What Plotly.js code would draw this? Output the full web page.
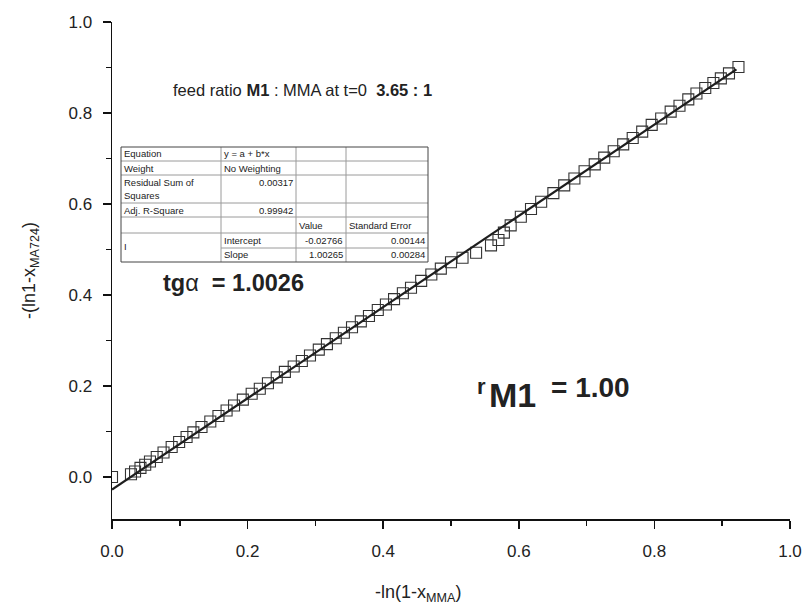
<!DOCTYPE html>
<html><head><meta charset="utf-8">
<script src="https://cdn.plot.ly/plotly-3.0.1.min.js"></script>
<style>html,body{margin:0;padding:0;background:#fff}#chart{width:807px;height:607px}</style>
</head><body><div id="chart"></div>
<script>
// measured data: -ln(1-x_MMA) vs -(ln1-x_MA724)
const xData = [0, 0.028, 0.034, 0.042, 0.049, 0.056, 0.066, 0.076, 0.088, 0.099, 0.110, 0.120, 0.132, 0.145, 0.157, 0.169, 0.180, 0.193, 0.206,
  0.218, 0.230, 0.243, 0.255, 0.268, 0.280, 0.292, 0.305, 0.317, 0.330, 0.342, 0.354, 0.367, 0.379, 0.392, 0.404, 0.416, 0.429, 0.441,
  0.456, 0.471, 0.485, 0.500, 0.517, 0.537, 0.559, 0.570, 0.578, 0.588, 0.603, 0.618, 0.633, 0.651, 0.667, 0.682, 0.697, 0.712,
  0.726, 0.740, 0.754, 0.768, 0.782, 0.796, 0.810, 0.824, 0.837, 0.850, 0.862, 0.875, 0.887, 0.898, 0.910, 0.924];
const yData = [0.000, 0.006, 0.012, 0.020, 0.027, 0.034, 0.044, 0.054, 0.066, 0.077, 0.088, 0.098, 0.110, 0.122, 0.134, 0.146, 0.157, 0.170, 0.183,
  0.194, 0.206, 0.219, 0.231, 0.243, 0.255, 0.267, 0.280, 0.292, 0.305, 0.317, 0.329, 0.342, 0.354, 0.367, 0.379, 0.391, 0.404, 0.416,
  0.431, 0.445, 0.458, 0.472, 0.482, 0.493, 0.509, 0.521, 0.537, 0.553, 0.572, 0.589, 0.605, 0.624, 0.641, 0.656, 0.672, 0.687,
  0.702, 0.716, 0.731, 0.745, 0.759, 0.774, 0.788, 0.803, 0.816, 0.830, 0.843, 0.855, 0.866, 0.876, 0.887, 0.901];

// linear fit y = a + b*x
const fitIntercept = -0.02766;
const fitSlope = 1.00265;
const fitXRange = [0, 0.921];
const fitY = fitXRange.map(x => fitIntercept + fitSlope * x);

// fit table text
const tableCol1 = ["Equation", "Weight", "Residual Sum of", "Squares", "Adj. R-Square", "I"];
const tableCol2 = ["y = a + b*x", "No Weighting", "0.00317", "0.99942", "Intercept", "Slope"];
const tableHeaders = ["Value", "Standard Error"];
const fitValues = ["-0.02766", "1.00265"];
const fitErrors = ["0.00144", "0.00284"];

const xTickVals = [0, 0.2, 0.4, 0.6, 0.8, 1.0];
const yTickVals = [0, 0.2, 0.4, 0.6, 0.8, 1.0];

// layout geometry (pixels)
const L = 112, T = 22, W = 678, H = 497;
const px = p => (p - L) / W;
const py = p => (T + H - p) / H;
const FONT = "Arial, 'Liberation Sans', Helvetica, sans-serif";

const shapes = [];
function hline(x0, x1, y, c, w) { shapes.push({type:'line', xref:'paper', yref:'paper', x0:px(x0), x1:px(x1), y0:py(y), y1:py(y), line:{color:c, width:w}}); }
function vline(x, y0, y1, c, w) { shapes.push({type:'line', xref:'paper', yref:'paper', x0:px(x), x1:px(x), y0:py(y0), y1:py(y1), line:{color:c, width:w}}); }
const tL = 121, tR = 428, tT = 147, tB = 262;
const cB = [221, 296, 346];
const rB = [161, 175, 203, 217, 233];
const gridC = '#9a9a9a';
rB.forEach(y => hline(tL, tR, y, gridC, 1));
hline(cB[0], tR, 248, gridC, 1);
cB.forEach(x => vline(x, tT, tB, gridC, 1));
shapes.push({type:'rect', xref:'paper', yref:'paper', x0:px(tL), x1:px(tR), y0:py(tB), y1:py(tT), line:{color:'#444', width:1}, fillcolor:'rgba(0,0,0,0)'});

const annotations = [];
function txt(t, x, y, anchor, size, extra) {
  annotations.push(Object.assign({text:t, xref:'paper', yref:'paper', x:px(x), y:py(y), xanchor:anchor, yanchor:'middle', showarrow:false, borderpad:0,
    font:{family:FONT, size:size, color:'#222'}}, extra || {}));
}
const c1x = tL + 2, c2x = cB[0] + 2, c2r = cB[1] - 2, c3x = cB[1] + 2, c3r = cB[2] - 2, c4x = cB[2] + 2, c4r = tR - 2;
const TS = 9.5;
txt(tableCol1[0], c1x, 154, 'left', TS);
txt(tableCol1[1], c1x, 168, 'left', TS);
txt(tableCol1[2], c1x, 182.5, 'left', TS);
txt(tableCol1[3], c1x, 195.5, 'left', TS);
txt(tableCol1[4], c1x, 210, 'left', TS);
txt(tableCol1[5], c1x, 247, 'left', TS);
txt(tableCol2[0], c2x, 154, 'left', TS);
txt(tableCol2[1], c2x, 168, 'left', TS);
txt(tableCol2[2], c2r, 182.5, 'right', TS);
txt(tableCol2[3], c2r, 210, 'right', TS);
txt(tableCol2[4], c2x, 240.5, 'left', TS);
txt(tableCol2[5], c2x, 255, 'left', TS);
txt(tableHeaders[0], c3x, 225, 'left', TS);
txt(tableHeaders[1], c4x, 225, 'left', TS);
txt(fitValues[0], c3r, 240.5, 'right', TS);
txt(fitValues[1], c3r, 255, 'right', TS);
txt(fitErrors[0], c4r, 240.5, 'right', TS);
txt(fitErrors[1], c4r, 255, 'right', TS);

// chart labels
txt('feed ratio <b>M1</b> : MMA at t=0\u00a0\u00a0<b>3.65 : 1</b>', 172, 90, 'left', 16.5);
txt('<b>tg</b>α\u00a0\u00a0<b>= 1.0026</b>', 162, 283, 'left', 23.5);
txt('<b>r</b>', 476, 386, 'left', 22);
txt('<b>M1</b>', 488, 395, 'left', 34);
txt('<b>= 1.00</b>', 550, 387, 'left', 28);

// x-axis title
txt('-ln(1-x<sub>MMA</sub>)', 418, 593, 'center', 18);

const traces = [
  {x: xData, y: yData, type:'scatter', mode:'markers',
   marker:{symbol:'square-open', size:11, color:'#333', line:{width:1.1, color:'#333'}}},
  {x: fitXRange, y: fitY, type:'scatter', mode:'lines', line:{color:'#1e1e1e', width:2.2}}
];

const axisCommon = {
  showgrid:false, zeroline:false, showline:true, linecolor:'#111', linewidth:1.5,
  ticks:'outside', ticklen:8, tickwidth:1.5, tickcolor:'#111',
  tickfont:{family:FONT, size:17, color:'#222'}, tickformat:'.1f',
  minor:{ticks:'outside', ticklen:5, tickwidth:1.5, tickcolor:'#111', dtick:0.1, showgrid:false}
};

const layout = {
  width:807, height:607, showlegend:false,
  paper_bgcolor:'#fff', plot_bgcolor:'#fff',
  margin:{l:L, r:807-L-W, t:T, b:607-T-H},
  xaxis:Object.assign({}, axisCommon, {range:[0, 1.0], tickvals:xTickVals, ticklabelstandoff:8}),
  yaxis:Object.assign({}, axisCommon, {range:[-(H - 455) / 455, 1.0], tickvals:yTickVals, ticklabelstandoff:7,
    title:{text:'-(ln1-x<sub>MA724</sub>)', font:{family:FONT, size:18, color:'#222'}, standoff:28}}),
  shapes:shapes, annotations:annotations
};

Plotly.newPlot('chart', traces, layout, {staticPlot:true, displayModeBar:false});
</script>
</body></html>
